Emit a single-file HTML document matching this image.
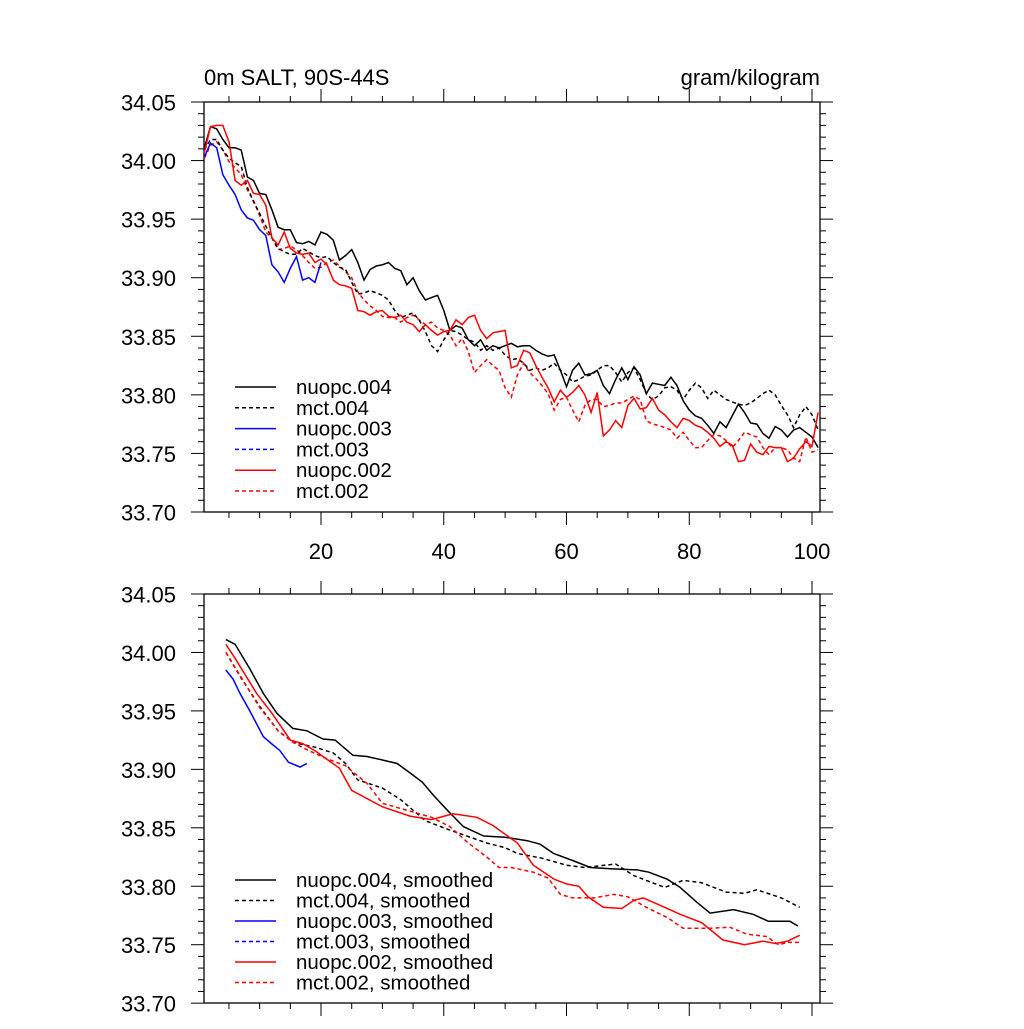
<!DOCTYPE html>
<html><head><meta charset="utf-8"><style>
body{margin:0;background:#fff;}
svg text{font-family:"Liberation Sans",sans-serif;fill:#000;}
</style></head><body>
<svg id="chart" width="1024" height="1024" viewBox="0 0 1024 1024"></svg>
<script>
// ---- data: top panel (annual), years 1..101
const years = Array.from({length:101},(_,i)=>i+1);
const nuopc004 = [34.011,34.029,34.027,34.018,34.011,34.011,34.009,33.986,33.983,33.972,33.971,33.958,33.943,33.941,33.941,33.930,33.929,33.931,33.928,33.939,33.937,33.932,33.915,33.919,33.924,33.913,33.898,33.907,33.910,33.911,33.913,33.908,33.906,33.894,33.900,33.889,33.881,33.883,33.885,33.872,33.855,33.859,33.857,33.847,33.842,33.847,33.838,33.842,33.840,33.842,33.844,33.841,33.842,33.842,33.838,33.835,33.833,33.834,33.821,33.807,33.821,33.827,33.817,33.818,33.821,33.808,33.801,33.813,33.823,33.813,33.824,33.817,33.801,33.810,33.809,33.808,33.815,33.808,33.795,33.787,33.782,33.780,33.774,33.767,33.777,33.772,33.782,33.792,33.785,33.776,33.775,33.767,33.763,33.773,33.770,33.764,33.770,33.772,33.768,33.764,33.755];
const mct004 = [34.009,34.018,34.018,34.009,34.002,33.998,33.995,33.977,33.965,33.955,33.944,33.934,33.925,33.922,33.920,33.920,33.925,33.922,33.919,33.917,33.918,33.913,33.909,33.907,33.896,33.886,33.887,33.889,33.887,33.885,33.881,33.872,33.866,33.868,33.870,33.864,33.854,33.842,33.837,33.847,33.855,33.854,33.851,33.847,33.845,33.838,33.842,33.838,33.840,33.834,33.830,33.831,33.827,33.821,33.823,33.821,33.823,33.827,33.821,33.817,33.811,33.813,33.816,33.817,33.821,33.825,33.825,33.819,33.811,33.819,33.823,33.813,33.801,33.796,33.799,33.806,33.807,33.804,33.796,33.804,33.810,33.806,33.797,33.804,33.800,33.796,33.794,33.792,33.791,33.793,33.797,33.801,33.804,33.800,33.791,33.783,33.772,33.783,33.790,33.783,33.770];
const nuopc003 = [34.003,34.015,34.011,33.988,33.979,33.971,33.958,33.951,33.949,33.941,33.936,33.911,33.905,33.896,33.908,33.918,33.898,33.900,33.896,33.913];
const nuopc002 = [34.007,34.029,34.030,34.030,34.016,33.983,33.979,33.983,33.972,33.971,33.962,33.934,33.928,33.939,33.925,33.921,33.920,33.921,33.913,33.916,33.911,33.898,33.894,33.893,33.891,33.872,33.871,33.868,33.871,33.872,33.867,33.866,33.868,33.862,33.860,33.854,33.860,33.855,33.851,33.854,33.855,33.864,33.860,33.866,33.868,33.855,33.848,33.853,33.854,33.855,33.823,33.825,33.838,33.836,33.825,33.815,33.806,33.794,33.804,33.798,33.802,33.808,33.800,33.785,33.802,33.765,33.770,33.778,33.772,33.791,33.797,33.788,33.789,33.797,33.787,33.783,33.777,33.772,33.780,33.778,33.774,33.772,33.768,33.763,33.756,33.760,33.757,33.743,33.744,33.758,33.751,33.749,33.756,33.755,33.755,33.743,33.746,33.754,33.760,33.756,33.785];
const mct002 = [34.002,34.013,34.016,34.009,33.999,33.994,33.988,33.975,33.966,33.953,33.939,33.934,33.924,33.925,33.927,33.924,33.919,33.913,33.908,33.909,33.913,33.915,33.910,33.905,33.900,33.888,33.881,33.876,33.872,33.867,33.866,33.866,33.862,33.866,33.868,33.864,33.860,33.862,33.857,33.855,33.851,33.842,33.848,33.837,33.819,33.825,33.830,33.825,33.821,33.806,33.798,33.817,33.827,33.819,33.814,33.808,33.801,33.787,33.796,33.798,33.787,33.777,33.791,33.796,33.796,33.790,33.791,33.793,33.793,33.796,33.799,33.796,33.778,33.775,33.774,33.772,33.770,33.763,33.768,33.761,33.755,33.755,33.761,33.766,33.765,33.761,33.755,33.761,33.768,33.766,33.764,33.755,33.749,33.755,33.755,33.753,33.746,33.743,33.764,33.751,33.753];
// ---- data: bottom panel (smoothed)
const sYearsN004 = [4.5,6,8.4,10.6,12.8,15.4,17.7,20.3,22.3,25.2,27.5,30,32.4,34.5,36.5,38.3,40.6,43.2,46.5,50,53.6,55.7,57.9,61,63.9,67.2,71.5,73.4,76.4,78.5,81.3,83.4,87.2,90.4,92.9,96.4,97.7];
const sN004 = [34.011,34.007,33.986,33.965,33.948,33.935,33.933,33.926,33.925,33.912,33.911,33.908,33.905,33.897,33.889,33.878,33.865,33.851,33.843,33.842,33.839,33.836,33.828,33.822,33.816,33.815,33.814,33.812,33.806,33.799,33.786,33.777,33.780,33.776,33.770,33.770,33.766];
const sYearsM004 = [4.5,7,10,13,15.5,19,22,24,26,30,33,37,41,47,50,52,56,60,63,68,71,73,76,79,82,86,89,91,95,98];
const sM004 = [34.000,33.978,33.954,33.933,33.923,33.919,33.914,33.905,33.891,33.884,33.874,33.856,33.848,33.837,33.833,33.828,33.824,33.818,33.816,33.819,33.809,33.805,33.799,33.805,33.803,33.795,33.794,33.797,33.790,33.782];
const sYearsN003 = [4.5,5.7,6.8,8.4,10.6,11.7,13.3,14.7,16.6,17.7];
const sN003 = [33.985,33.977,33.965,33.950,33.928,33.923,33.916,33.906,33.902,33.905];
const sYearsN002 = [4.5,6,9.5,12,15,17,19,23,25,30,34.5,38,41.5,45.4,48,52,54.6,58,60,62,63.5,66,69,71,72.5,76,78.5,82,85.5,89,92,94,96,98];
const sN002 = [34.007,33.995,33.965,33.948,33.925,33.922,33.916,33.901,33.882,33.868,33.860,33.857,33.862,33.859,33.852,33.837,33.818,33.806,33.802,33.800,33.791,33.782,33.781,33.788,33.790,33.782,33.776,33.769,33.754,33.750,33.753,33.751,33.753,33.758];
const sYearsM002 = [4.5,10,13,15.5,18,21,24,27.5,30,38,41,44,47,49,51,54.6,57,59,61,64.5,67.7,70,73,76.5,79,83.4,86.6,89.4,92.6,94.5,96,98];
const sM002 = [34.000,33.953,33.933,33.923,33.916,33.909,33.903,33.888,33.871,33.859,33.851,33.837,33.825,33.816,33.816,33.812,33.807,33.793,33.790,33.790,33.793,33.791,33.782,33.773,33.764,33.764,33.765,33.759,33.757,33.750,33.752,33.752];
const yTicks = [34.05,34.00,33.95,33.90,33.85,33.80,33.75,33.70];
const xTicks = [20,40,60,80,100];
const legendTop = ["nuopc.004","mct.004","nuopc.003","mct.003","nuopc.002","mct.002"];
const legendBot = ["nuopc.004, smoothed","mct.004, smoothed","nuopc.003, smoothed","mct.003, smoothed","nuopc.002, smoothed","mct.002, smoothed"];

const NS="http://www.w3.org/2000/svg";
const svg=document.getElementById('chart');
function mk(tag,attrs,parent){const e=document.createElementNS(NS,tag);for(const k in attrs)e.setAttribute(k,attrs[k]);(parent||svg).appendChild(e);return e;}
const XL=204, XR=820;
function xS(yr){return 204.4+(yr-1)*6.1375;}
function yTop(v){return 102+(34.05-v)*1171.4;}
function yBot(v){return 594+(34.05-v)*1169;}

function panel(name,top,bot,yS,showX){
  const g=mk('g',{});
  
  
  const fr=mk('rect',{x:XL,y:top,width:XR-XL,height:bot-top,fill:'none',stroke:'#000','stroke-width':1.3},g);
  
  
  for(let v=33.70;v<=34.0501;v+=0.01){
    const y=yS(v);const maj=Math.abs(Math.round(v*100)%5)<0.01;
    const L=maj?13:6;
    mk('line',{x1:XL,x2:XL-L,y1:y,y2:y,stroke:'#000','stroke-width':1},g);
    mk('line',{x1:XR,x2:XR+L,y1:y,y2:y,stroke:'#000','stroke-width':1},g);
  }
  yTicks.forEach(v=>{
    const t=mk('text',{x:176,y:yS(v)+8.5,'font-size':22,'text-anchor':'end'},g);
    t.textContent=v.toFixed(2);
    
    
  });
  for(let yr=5;yr<=100;yr+=5){
    const x=xS(yr);const maj=yr%20===0;const L=maj?13:6;
    mk('line',{x1:x,x2:x,y1:top,y2:top-L,stroke:'#000','stroke-width':1},g);
    mk('line',{x1:x,x2:x,y1:bot,y2:bot+L,stroke:'#000','stroke-width':1},g);
  }
  if(showX) xTicks.forEach(v=>{
    const t=mk('text',{x:xS(v),y:bot+47,'font-size':22,'text-anchor':'middle'},g);
    t.textContent=v;
    
    
  });
  return g;
}
function series(name,xs,vals,yS,color,dash){
  const pts=vals.map((v,i)=>xS(xs[i]).toFixed(1)+','+yS(v).toFixed(1)).join(' ');
  const p=mk('polyline',{points:pts,fill:'none',stroke:color,'stroke-width':1.5,'stroke-dasharray':dash?'4,3':'none'});
  
  
}
function legend(labels,y0,dy,name){
  const cols=['#000','#000','#00f','#00f','#f00','#f00'];
  const g=mk('g',{});
  
  
  labels.forEach((l,i)=>{
    const y=y0+i*dy;
    mk('line',{x1:235,x2:276,y1:y,y2:y,stroke:cols[i],'stroke-width':1.5,'stroke-dasharray':i%2?'4,3':'none'},g);
    const t=mk('text',{x:296,y:y+7,'font-size':20.5},g);
    t.textContent=l;
    
    
  });
}
const t1=mk('text',{x:204,y:85,'font-size':22});t1.textContent='0m SALT, 90S-44S';


const t2=mk('text',{x:820,y:85,'font-size':22,'text-anchor':'end'});t2.textContent='gram/kilogram';



panel('top-panel',102,512,yTop,true);
panel('bottom-panel',594,1003,yBot,false);

series('line-mct-002',years,mct002,yTop,'#f00',true);
series('line-mct-004',years,mct004,yTop,'#000',true);
series('line-nuopc-003',years.slice(0,nuopc003.length),nuopc003,yTop,'#00f',false);
series('line-nuopc-004',years,nuopc004,yTop,'#000',false);
series('line-nuopc-002',years,nuopc002,yTop,'#f00',false);

series('smooth-mct-004',sYearsM004,sM004,yBot,'#000',true);
series('smooth-mct-002',sYearsM002,sM002,yBot,'#f00',true);
series('smooth-nuopc-003',sYearsN003,sN003,yBot,'#00f',false);
series('smooth-nuopc-004',sYearsN004,sN004,yBot,'#000',false);
series('smooth-nuopc-002',sYearsN002,sN002,yBot,'#f00',false);

legend(legendTop,387,20.8,'legend-top');
legend(legendBot,880,20.5,'legend-bottom');
</script>
</body></html>
